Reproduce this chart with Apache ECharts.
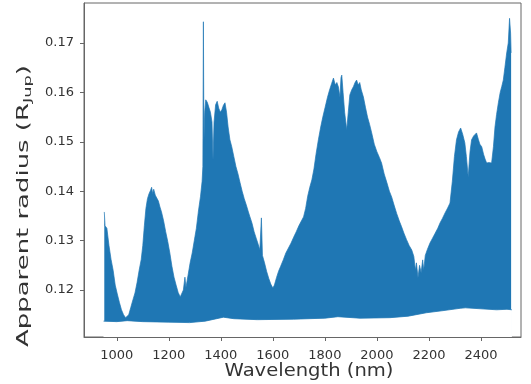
<!DOCTYPE html>
<html>
<head>
<meta charset="utf-8">
<script src="https://cdn.jsdelivr.net/npm/echarts@6/dist/echarts.min.js"></script>
<style>
html,body{margin:0;padding:0;background:#fff;}
#chart{width:531px;height:384px;}
</style>
</head>
<body>
<div id="chart"></div>
<script>
// Wavelength (nm) and upper envelope of apparent radius (R_Jup)
const wavelengths = [952,955,962,970,978,986,994,1002,1010,1018,1026,1034,1040,1046,1054,1062,1070,1078,1086,1094,1100,1106,1112,1118,1124,1130,1134,1138,1142,1148,1154,1160,1166,1172,1180,1188,1196,1204,1212,1220,1228,1236,1244,1250,1256,1262,1266,1274,1282,1290,1298,1306,1314,1322,1328,1331,1333,1335,1338,1342,1348,1354,1360,1366,1370,1374,1380,1386,1392,1398,1404,1410,1416,1422,1428,1435,1442,1450,1458,1466,1474,1482,1490,1498,1506,1512,1520,1528,1536,1544,1550,1556,1560,1568,1576,1584,1592,1600,1606,1614,1622,1630,1640,1650,1660,1670,1680,1690,1700,1710,1718,1726,1734,1742,1750,1758,1766,1775,1784,1792,1801,1810,1818,1826,1833,1840,1846,1852,1858,1862,1865,1870,1876,1884,1890,1896,1903,1910,1916,1922,1928,1934,1940,1948,1956,1964,1972,1980,1990,2000,2010,2018,2028,2038,2048,2057,2066,2076,2086,2095,2104,2114,2124,2134,2142,2148,2152,2158,2164,2170,2176,2180,2186,2194,2204,2214,2224,2234,2243,2252,2262,2272,2281,2290,2298,2306,2314,2322,2330,2338,2344,2351,2358,2364,2372,2378,2383,2390,2396,2403,2410,2416,2422,2430,2436,2441,2448,2454,2460,2467,2474,2480,2486,2492,2499,2505,2510,2514,2516];
const upperRadius = [0.1358,0.1330,0.1325,0.1290,0.1262,0.1240,0.1210,0.1192,0.1175,0.1160,0.1150,0.1144,0.1143,0.1150,0.1165,0.1180,0.1194,0.1215,0.1240,0.1262,0.1290,0.1330,0.1365,0.1385,0.1395,0.1402,0.1408,0.1395,0.1404,0.1392,0.1392,0.1380,0.1368,0.1358,0.1340,0.1318,0.1298,0.1275,0.1248,0.1226,0.1210,0.1195,0.1186,0.1190,0.1200,0.1226,0.1205,0.1230,0.1255,0.1275,0.1300,0.1325,0.1360,0.1390,0.1420,0.1450,0.1743,0.1500,0.1560,0.1585,0.1580,0.1570,0.1560,0.1540,0.1463,0.1540,0.1575,0.1582,0.1568,0.1560,0.1565,0.1574,0.1579,0.1560,0.1530,0.1504,0.1490,0.1470,0.1450,0.1435,0.1417,0.1400,0.1385,0.1372,0.1358,0.1348,0.1335,0.1318,0.1305,0.1292,0.1281,0.1346,0.1270,0.1255,0.1238,0.1224,0.1212,0.1204,0.1210,0.1225,0.1238,0.1248,0.1261,0.1275,0.1285,0.1295,0.1307,0.1318,0.1330,0.1340,0.1348,0.1365,0.1390,0.1408,0.1423,0.1445,0.1475,0.1504,0.1530,0.1550,0.1570,0.1590,0.1605,0.1618,0.1629,0.1615,0.1620,0.1611,0.1590,0.1630,0.1635,0.1600,0.1560,0.1524,0.1560,0.1595,0.1605,0.1612,0.1620,0.1625,0.1615,0.1620,0.1605,0.1591,0.1570,0.1550,0.1535,0.1518,0.1495,0.1480,0.1468,0.1457,0.1435,0.1418,0.1400,0.1388,0.1372,0.1355,0.1340,0.1328,0.1315,0.1302,0.1290,0.1281,0.1268,0.1240,0.1255,0.1225,0.1250,0.1235,0.1261,0.1240,0.1270,0.1282,0.1295,0.1305,0.1315,0.1325,0.1336,0.1345,0.1356,0.1366,0.1376,0.1420,0.1470,0.1504,0.1520,0.1528,0.1515,0.1498,0.1470,0.1429,0.1480,0.1504,0.1512,0.1510,0.1518,0.1505,0.1495,0.1490,0.1475,0.1465,0.1457,0.1458,0.1455,0.1457,0.1490,0.1530,0.1555,0.1579,0.1600,0.1612,0.1625,0.1650,0.1680,0.1700,0.1750,0.1720,0.1680];
// Lower envelope
const lowerWavelengths = [949,1000,1040,1100,1200,1280,1340,1410,1450,1540,1680,1800,1850,1935,2050,2120,2190,2250,2320,2340,2400,2460,2500,2519];
const lowerRadius = [0.1137,0.1136,0.1138,0.1136,0.1135,0.1134,0.1137,0.1145,0.1142,0.1140,0.1141,0.1143,0.1146,0.1143,0.1144,0.1147,0.1154,0.1158,0.1163,0.1164,0.1162,0.1160,0.1161,0.1160];
const xTicks = [1000,1200,1400,1600,1800,2000,2200,2400];
const yTicks = [0.12,0.13,0.14,0.15,0.16,0.17];

const C0 = '#1f77b4';
const chart = echarts.init(document.getElementById('chart'), null, {renderer:'canvas'});
const axisCol = '#666';
const txtCol = '#333';
const font = 'DejaVu Sans';

chart.setOption({
  animation:false,
  backgroundColor:'#fff',
  grid:{left:84, top:3, right:10, bottom:47, show:true, borderColor:axisCol, borderWidth:1, backgroundColor:'transparent'},
  xAxis:{
    type:'value', min:874, max:2554, z:5,
    axisLine:{show:true, lineStyle:{color:axisCol, width:1}},
    axisTick:{show:true, inside:false, length:4, customValues:xTicks, lineStyle:{color:axisCol}},
    axisLabel:{customValues:xTicks, margin:12, fontFamily:font, fontSize:13, color:txtCol, formatter:v=>String(v)},
    splitLine:{show:false}
  },
  yAxis:{
    type:'value', min:0.11049, max:0.1781, z:5,
    axisLine:{show:true, lineStyle:{color:axisCol, width:1}},
    axisTick:{show:true, inside:false, length:4, customValues:yTicks, lineStyle:{color:axisCol}},
    axisLabel:{customValues:yTicks, margin:10, fontFamily:font, fontSize:13, color:txtCol, formatter:v=>v.toFixed(2)},
    splitLine:{show:false}
  },
  series:[
    {type:'line', symbol:'none', z:2, data:wavelengths.map((w,i)=>[w,upperRadius[i]]),
     lineStyle:{color:C0, width:0.7}, areaStyle:{color:C0, opacity:1, origin:'start'}},
    {type:'line', symbol:'none', z:3, data:lowerWavelengths.map((w,i)=>[w,lowerRadius[i]]),
     lineStyle:{color:C0, width:0.8}, areaStyle:{color:'#fff', opacity:1, origin:'start'}}
  ],
  graphic:[
    {type:'text', x:309, y:372, scaleX:1.15, style:{text:'Wavelength (nm)', font:'17px DejaVu Sans', fill:txtCol, align:'center', verticalAlign:'middle'}},
    {type:'text', x:24, y:206, rotation:Math.PI/2, scaleX:1.62, style:{
      text:'{n|Apparent radius (R}{s|Jup}{n|)}', align:'center', verticalAlign:'middle', fill:txtCol,
      rich:{n:{fontFamily:font, fontSize:16, fill:txtCol, color:txtCol}, s:{fontFamily:font, fontSize:11, fill:txtCol, color:txtCol, padding:[8,0,0,0]}}
    }}
  ]
});
</script>
</body>
</html>
